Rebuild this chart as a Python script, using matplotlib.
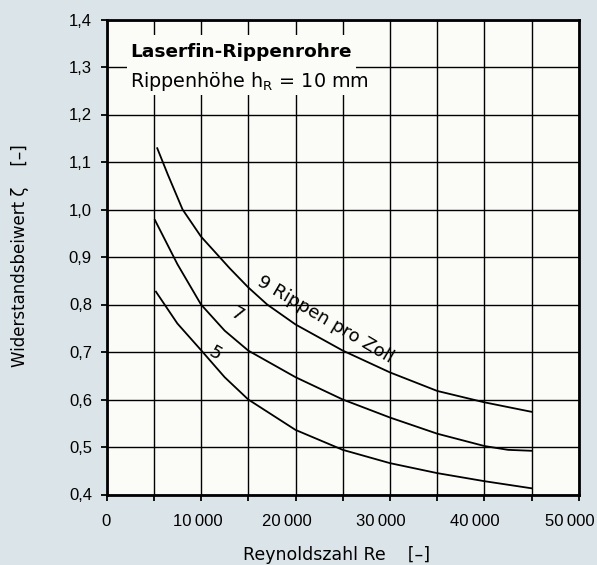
import matplotlib
matplotlib.use("Agg")
import matplotlib.pyplot as plt
from matplotlib.patches import Rectangle
from matplotlib.transforms import ScaledTranslation, blended_transform_factory

plt.rcParams['font.family'] = ['DejaVu Sans']
plt.rcParams['mathtext.default'] = 'regular'

# ---- data ----
re_9 = [5370, 6500, 8050, 10000, 13050, 15000, 17000, 20000, 25000, 30000, 35000, 40000, 45000]
zeta_9 = [1.129, 1.073, 1.000, 0.943, 0.876, 0.836, 0.800, 0.758, 0.703, 0.657, 0.618, 0.594, 0.574]

re_7 = [5120, 7500, 10000, 12500, 15000, 20000, 25000, 30000, 35000, 40000, 42500, 45000]
zeta_7 = [0.978, 0.885, 0.800, 0.745, 0.703, 0.647, 0.600, 0.562, 0.528, 0.502, 0.494, 0.492]

re_5 = [5230, 7500, 10000, 12500, 15000, 20000, 25000, 30000, 35000, 40000, 45000]
zeta_5 = [0.827, 0.760, 0.704, 0.647, 0.600, 0.536, 0.494, 0.466, 0.445, 0.428, 0.413]

curve_labels = ["9 Rippen pro Zoll", "7", "5"]

x_ticks = [0, 10000, 20000, 30000, 40000, 50000]
x_tick_labels = ["0", "10\u2009000", "20\u2009000", "30\u2009000", "40\u2009000", "50\u2009000"]
x_minor = [5000, 15000, 25000, 35000, 45000]
y_ticks = [0.4, 0.5, 0.6, 0.7, 0.8, 0.9, 1.0, 1.1, 1.2, 1.3, 1.4]
y_tick_labels = ["0,4", "0,5", "0,6", "0,7", "0,8", "0,9", "1,0", "1,1", "1,2", "1,3", "1,4"]

title_text = "Laserfin-Rippenrohre"
subtitle_text = "Rippenhöhe h$_R$ = 10 mm"
xlabel_text = "Reynoldszahl Re    [–]"
ylabel_text = "Widerstandsbeiwert ζ    [–]"

# ---- figure ----
W, H = 597, 565
fig = plt.figure(figsize=(W / 100, H / 100), dpi=100)
fig.patch.set_facecolor('#dbe4e8')

def fx(px):
    return px / W

def fy(py):
    return 1 - py / H

ax_bottom_px, ax_top_px = 494.5, 19.5
ax = fig.add_axes([fx(106.5), fy(ax_bottom_px), fx(579) - fx(106.5), fy(ax_top_px) - fy(ax_bottom_px)])
ax.set_facecolor('#fbfbf7')
ax.set_xlim(0, 50000)
ax.set_ylim(0.4, 1.4)

ax.set_xticks(x_ticks)
ax.set_xticklabels([])
ax.set_xticks(x_minor, minor=True)
ax.set_yticks(y_ticks)
ax.set_yticklabels(y_tick_labels)

tick_font = ['Liberation Sans', 'DejaVu Sans']
for lab in ax.get_yticklabels():
    lab.set_fontfamily(tick_font)
    lab.set_fontsize(12)

# x tick labels placed at the tick values, with the small shifts of the printed original (pixels)
x_label_shift = [0, -3, -9, -9, -10, -9]
base = blended_transform_factory(ax.transData, ax.transAxes)
baseline_px = 526
for val, txt, dx in zip(x_ticks, x_tick_labels, x_label_shift):
    tr = base + ScaledTranslation(dx / 100, -(baseline_px - ax_bottom_px) / 100, fig.dpi_scale_trans)
    ax.text(val, 0, txt, transform=tr, ha='center', va='baseline',
            fontsize=12, family=tick_font, clip_on=False)

ax.tick_params(axis='both', which='both', direction='out', length=4.5, width=1.3, color='black')
ax.tick_params(axis='y', which='major', pad=6)

ax.grid(True, which='both', color='black', linewidth=1.0)
ax.set_axisbelow(True)
for s in ax.spines.values():
    s.set_linewidth(2.0)
    s.set_color('black')

# blank box behind the title text (interrupts the grid)
ax.add_patch(Rectangle((2170, 1.241), 26360 - 2170, 1.367 - 1.241,
                       facecolor='#fbfbf7', edgecolor='none', zorder=1.5))

# curves
for xs, ys in [(re_9, zeta_9), (re_7, zeta_7), (re_5, zeta_5)]:
    ax.plot(xs, ys, color='black', linewidth=1.3, zorder=3)

# curve labels
ax.text(23140, 0.7674, curve_labels[0], rotation=-30.5, rotation_mode='anchor',
        ha='center', va='center', fontsize=13, zorder=4)
ax.text(13790, 0.778, curve_labels[1], rotation=-30, rotation_mode='anchor',
        ha='center', va='center', fontsize=13, zorder=4)
ax.text(11460, 0.697, curve_labels[2], rotation=-30, rotation_mode='anchor',
        ha='center', va='center', fontsize=13, zorder=4)

# title texts
fig.text(fx(130), fy(57), title_text, fontsize=13.3, fontweight='bold', va='baseline', ha='left')
fig.text(fx(130), fy(87), subtitle_text, fontsize=13.8, va='baseline', ha='left')

# axis labels
fig.text(fx(243), fy(560), xlabel_text, fontsize=12.5, va='baseline', ha='left')
fig.text(fx(20), fy(367), ylabel_text, fontsize=12, rotation=90, va='bottom', ha='center')

fig.savefig('out.png', dpi=100, facecolor=fig.get_facecolor())
